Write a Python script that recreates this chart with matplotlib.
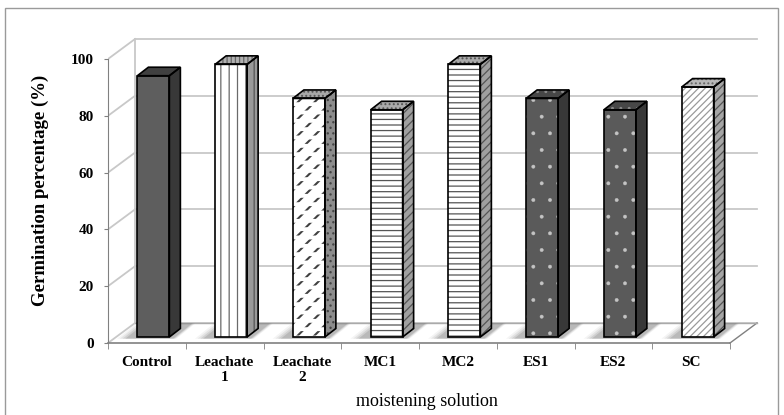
import matplotlib
matplotlib.use("Agg")
import matplotlib.pyplot as plt
from matplotlib.patches import Rectangle

# ---- data ----
categories = ["Control", "Leachate\n1", "Leachate\n2", "MC1", "MC2", "ES1", "ES2", "SC"]
values = [92, 96, 84, 80, 96, 84, 80, 88]
yticks = [0, 20, 40, 60, 80, 100]
ylabel = "Germination percentage (%)"
xlabel = "moistening solution"

# ---- styles (per bar) ----
styles = [
    dict(face="#5e5e5e", hatch=None, hc=None, hlw=0.9, side="#383838", shatch=None, shc=None, top="#404040", thatch=None, thc=None),
    dict(face="white", hatch="||", hc="#6a6a6a", hlw=0.9, side="#9a9a9a", shatch="||", shc="#555555", top="#b0b0b0", thatch="||||", thc="#666666"),
    dict(face="white", hatch="//", hc="#404040", hlw=1.5, side="#8c8c8c", shatch="...", shc="#444444", top="#a8a8a8", thatch="....", thc="#555555"),
    dict(face="white", hatch="---", hc="#555555", hlw=0.9, side="#a0a0a0", shatch="////", shc="#555555", top="#aaaaaa", thatch="....", thc="#555555"),
    dict(face="white", hatch="---", hc="#555555", hlw=0.9, side="#a0a0a0", shatch="////", shc="#555555", top="#aaaaaa", thatch="....", thc="#555555"),
    dict(face="#5a5a5a", hatch=".", hc="#c4c4c4", hlw=0.3, side="#383838", shatch=None, shc=None, top="#474747", thatch="..", thc="#888888"),
    dict(face="#5a5a5a", hatch=".", hc="#c4c4c4", hlw=0.3, side="#383838", shatch=None, shc=None, top="#474747", thatch="..", thc="#888888"),
    dict(face="white", hatch="/////", hc="#9a9a9a", hlw=0.9, side="#a5a5a5", shatch="////", shc="#555555", top="#b8b8b8", thatch="....", thc="#666666"),
]

plt.rcParams["font.family"] = ["Liberation Serif", "DejaVu Serif"]
plt.rcParams["hatch.linewidth"] = 0.9

W, H = 784, 415
fig = plt.figure(figsize=(W / 100, H / 100), dpi=100)

# geometry (pixels -> data)
px_per_cat = 77.75
px_per_unit = 2.84
x0_px, y0_px = 108, 343
xlim = (-0.5, 7.9)
ylim = (-3, 108.5)
left = x0_px / W
width = px_per_cat * (xlim[1] - xlim[0]) / W
bottom = (H - (y0_px - ylim[0] * px_per_unit)) / H
height = (ylim[1] - ylim[0]) * px_per_unit / H
ax = fig.add_axes([left, bottom, width, height])
ax.set_xlim(*xlim)
ax.set_ylim(*ylim)

# 3D-ish offsets
wall_dx = 27 / px_per_cat
wall_dy = 20 / px_per_unit
bar_dx = 6.5 / px_per_cat
bar_dy = 6 / px_per_unit
bw = 32 / px_per_cat
side_dx = 11 / px_per_cat
top_dy = 8.5 / px_per_unit

n = len(categories)
xl, xr = -0.5, n - 0.5
grid_c = "#c8c8c8"
axis_c = "#808080"


def set_hlw(artists, lw):
    for p in artists:
        if hasattr(p, "set_hatch_linewidth"):
            p.set_hatch_linewidth(lw)


# back wall gridlines and side wall diagonals
for v in yticks:
    ax.plot([xl + wall_dx, xr + wall_dx], [v + wall_dy, v + wall_dy], color=grid_c, lw=1.3, zorder=0.5)
    ax.plot([xl, xl + wall_dx], [v, v + wall_dy], color=grid_c, lw=1.3, zorder=0.5)
ax.plot([xl + wall_dx, xl + wall_dx], [wall_dy, yticks[-1] + wall_dy], color=grid_c, lw=1.3, zorder=0.5)
# floor edges
ax.plot([xr, xr + wall_dx], [0, wall_dy], color=axis_c, lw=1.0, zorder=0.6)
ax.plot([xl + wall_dx, xr + wall_dx], [wall_dy, wall_dy], color="#aaaaaa", lw=1.0, zorder=0.6)

# depth shift from bar base to back line
depth_dx = (wall_dy - bar_dy) * (wall_dx / wall_dy)

# bars
for i, (v, st) in enumerate(zip(values, styles)):
    xc = i + bar_dx
    b = bar_dy
    xa, xb = xc - bw / 2, xc + bw / 2
    # soft shadow on floor (band running toward the back wall)
    for k, a in enumerate([0.05, 0.08, 0.11, 0.14]):
        g = 0.12 - k * 0.035
        fx0, fx1 = xa - 0.14 - g, xb + side_dx * 0.3 + g * 0.4
        ax.fill([fx0, fx1, fx1 + depth_dx, fx0 + depth_dx],
                [b - 0.6, b - 0.6, wall_dy - 0.2, wall_dy - 0.2],
                color="#303030", alpha=a, lw=0, zorder=1)
    # front face
    fr = ax.bar(xc, v, width=bw, bottom=b, color=st["face"], edgecolor=st["hc"] if st["hatch"] else st["face"],
                hatch=st["hatch"], lw=0, zorder=3)
    set_hlw(fr.patches, st["hlw"])
    if st["hatch"] == "//":
        ov = ax.bar(xc, v, width=bw, bottom=b, color="none", edgecolor="white", hatch="--", lw=0, zorder=3.1)
        set_hlw(ov.patches, 2.8)
    ax.bar(xc, v, width=bw, bottom=b, color="none", edgecolor="black", lw=1.2, zorder=3.5)
    # side face
    sx = [xb, xb + side_dx, xb + side_dx, xb]
    sy = [b, b + top_dy, b + v + top_dy, b + v]
    ax.fill(sx, sy, facecolor=st["side"], edgecolor=st["shc"] if st["shatch"] else st["side"],
            hatch=st["shatch"], lw=0, zorder=3)
    ax.fill(sx, sy, facecolor="none", edgecolor="black", lw=1.2, zorder=3.5)
    # top face
    tx = [xa, xb, xb + side_dx, xa + side_dx]
    ty = [b + v, b + v, b + v + top_dy, b + v + top_dy]
    ax.fill(tx, ty, facecolor=st["top"], edgecolor=st["thc"] if st["thatch"] else st["top"],
            hatch=st["thatch"], lw=0, zorder=3)
    ax.fill(tx, ty, facecolor="none", edgecolor="black", lw=1.2, zorder=3.5)

# axes spines and ticks
for s in ["top", "right"]:
    ax.spines[s].set_visible(False)
ax.spines["left"].set_bounds(0, yticks[-1])
ax.spines["left"].set_color(axis_c)
ax.spines["left"].set_position(("data", xl))
ax.spines["bottom"].set_position(("data", 0))
ax.spines["bottom"].set_bounds(xl, xr)
ax.spines["bottom"].set_color(axis_c)
ax.spines["bottom"].set_linewidth(1.2)

ax.set_yticks(yticks)
ax.set_yticklabels([str(t) for t in yticks], fontsize=11, fontweight="bold")
ax.tick_params(axis="y", length=3, color=axis_c, pad=7)
ax.set_xticks(range(n))
ax.set_xticklabels(categories, fontsize=11, fontweight="bold", linespacing=1.25)
ax.set_xticks([k - 0.5 for k in range(n + 1)], minor=True)
ax.tick_params(axis="x", which="major", length=0, pad=9)
ax.tick_params(axis="x", which="minor", length=4, color=axis_c)
ax.set_facecolor("none")

fig.text(40 / W, 1 - 190 / H, ylabel, rotation=90, ha="center", va="center",
         fontsize=13.5, fontweight="bold")
fig.text(427 / W, 1 - 401 / H, xlabel, ha="center", va="center", fontsize=13)

# outer frame
fig.patches.append(Rectangle((5 / W, -0.02), 773 / W, 1 - 8 / H + 0.02, transform=fig.transFigure,
                             fill=False, edgecolor="#9a9a9a", lw=1.0))

fig.savefig("out.png", dpi=100)
